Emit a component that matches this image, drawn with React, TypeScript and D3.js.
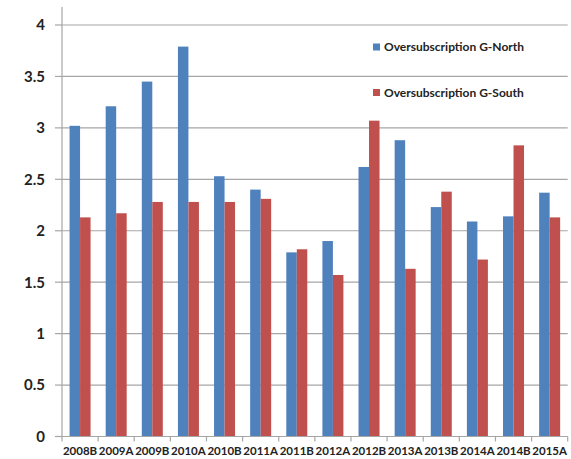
import React from "react";
import * as d3 from "d3";

const categories = ["2008B", "2009A", "2009B", "2010A", "2010B", "2011A", "2011B", "2012A", "2012B", "2013A", "2013B", "2014A", "2014B", "2015A"];
const northValues = [3.02, 3.21, 3.45, 3.79, 2.53, 2.40, 1.79, 1.90, 2.62, 2.88, 2.23, 2.09, 2.14, 2.37];
const southValues = [2.13, 2.17, 2.28, 2.28, 2.28, 2.31, 1.82, 1.57, 3.07, 1.63, 2.38, 1.72, 2.83, 2.13];
const seriesNames = ["Oversubscription G-North", "Oversubscription G-South"];
const yTicks = [0, 0.5, 1, 1.5, 2, 2.5, 3, 3.5, 4];

const colors = ["#4F81BD", "#C0504D"];
const W = 571, H = 459;
const left = 62, right = 567.7, top = 25, bottom = 436.5;
const font = "Lato, 'Open Sans', Arial, sans-serif";

export default function App() {
  const x = d3.scaleBand<string>().domain(categories).range([left, right]).paddingInner(0).paddingOuter(0);
  const y = d3.scaleLinear().domain([0, 4]).range([bottom, top]);
  const inner = d3.scaleBand<number>().domain([0, 1]).range([0, x.bandwidth()]).paddingOuter(0.72).paddingInner(0);
  const series = [northValues, southValues];
  const grid = "#a6a6a6";

  return (
    <svg width={W} height={H} style={{ position: "absolute", left: 0, top: 0, background: "#fff" }}>
      {yTicks.filter((t) => t > 0).map((t) => (
        <line key={"g" + t} x1={left} x2={right} y1={y(t)} y2={y(t)} stroke={grid} strokeWidth={1.2} />
      ))}
      {series.map((vals, si) =>
        vals.map((v, i) => (
          <rect
            key={si + "-" + i}
            x={(x(categories[i]) as number) + (inner(si) as number)}
            y={y(v)}
            width={inner.bandwidth()}
            height={y(0) - y(v)}
            fill={colors[si]}
          />
        ))
      )}
      <line x1={left} x2={left} y1={7} y2={bottom} stroke={grid} strokeWidth={1.2} />
      <line x1={left} x2={right} y1={bottom} y2={bottom} stroke={grid} strokeWidth={1.2} />
      {yTicks.map((t) => (
        <g key={"y" + t}>
          <line x1={55} x2={left} y1={y(t)} y2={y(t)} stroke={grid} strokeWidth={1.2} />
          <text x={45} y={y(t)} dy="0.36em" textAnchor="end" fontFamily={font} fontWeight="bold" fontSize={15} fill="#222">
            {t}
          </text>
        </g>
      ))}
      {categories.map((c, i) => (
        <g key={c}>
          <line x1={(x(c) as number) + x.bandwidth()} x2={(x(c) as number) + x.bandwidth()} y1={bottom} y2={bottom + 5} stroke={grid} strokeWidth={1.2} />
          {i === 0 && <line x1={left} x2={left} y1={bottom} y2={bottom + 5} stroke={grid} strokeWidth={1.2} />}
          <text x={(x(c) as number) + x.bandwidth() / 2} y={455} textAnchor="middle" fontFamily={font} fontWeight="bold" fontSize={11.5} fill="#222">
            {c}
          </text>
        </g>
      ))}
      {seriesNames.map((n, i) => (
        <g key={n} transform={`translate(373, ${47 + i * 45.5})`}>
          <rect x={0} y={-3.5} width={7} height={7} fill={colors[i]} />
          <text x={11} y={0} dy="0.35em" fontFamily={font} fontWeight="bold" fontSize={12} fill="#222">
            {n}
          </text>
        </g>
      ))}
    </svg>
  );
}
